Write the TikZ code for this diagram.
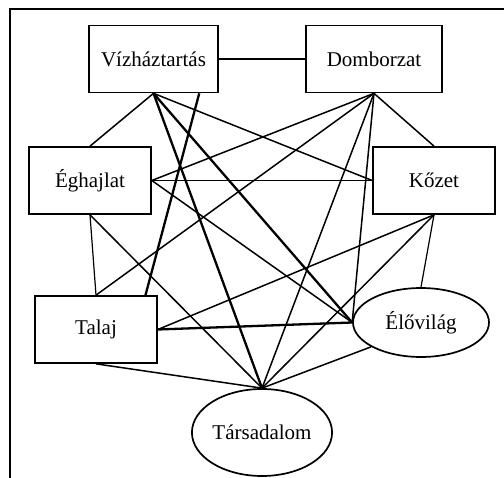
\documentclass[tikz,border=0pt]{standalone}
\usepackage{fontspec}
\setmainfont{Liberation Serif}
\usetikzlibrary{calc,shapes.geometric}
\begin{document}
\begin{tikzpicture}[x=1pt,y=-1pt,
  box/.style={draw,line width=1.7pt,rectangle,inner sep=0pt,minimum width=#1,minimum height=67pt,font=\fontsize{21}{25}\selectfont},
  oval/.style={draw,line width=1.7pt,ellipse,inner sep=0pt,font=\fontsize{21}{25}\selectfont},
  thin/.style={line width=1.5pt},
  thick/.style={line width=2.3pt}]
\useasboundingbox (0,0) rectangle (504,478);
\draw[line width=1.5pt] (504,9) -- (10,9) -- (10,478);
\node[box=129pt] (viz) at (153.5,59) {Vízháztartás};
\node[box=136pt] (domb) at (374,59) {Domborzat};
\node[box=122pt] (egh) at (90,180.5) {Éghajlat};
\node[box=122pt] (kozet) at (434,180.5) {Kőzet};
\node[box=122pt] (talaj) at (96,329.5) {Talaj};
\node[oval,minimum width=136pt,minimum height=69pt] (elo) at (421,322.5) {Élővilág};
\node[oval,minimum width=128pt,minimum height=87pt] (tars) at (262,432.5) {Társadalom};
% connections
\draw[thin] (viz.east) -- (domb.west);
\draw[thin] (viz.south) -- (egh.north);
\draw[thick] ($(viz.south)!0.7!(viz.south east)$) -- ($(talaj.north)!0.8!(talaj.north east)$);
\draw[thick] (viz.south) -- (tars.north);
\draw[thick] (viz.south) -- (elo.west);
\draw[thin] (viz.south) -- (kozet.west);
\draw[thin] (domb.south) -- (kozet.north);
\draw[thin] (domb.south) -- (elo.west);
\draw[thin] (domb.south) -- (tars.north);
\draw[thin] (domb.south) -- (talaj.north);
\draw[thin] (domb.south) -- (egh.east);
\draw[thin] (egh.east) -- (kozet.west);
\draw[thin] (egh.east) -- (elo.west);
\draw[line width=1.2pt] (egh.south) -- (talaj.north);
\draw[thin] (egh.south) -- (tars.north);
\draw[thin] (kozet.south) -- (talaj.east);
\draw[thin] (kozet.south) -- (tars.north);
\draw[line width=1.2pt] (kozet.south) -- (elo.north);
\draw[thick] (talaj.east) -- (elo.west);
\draw[thin] (talaj.south) -- (tars.north);
\draw[thin] (elo.206) -- (tars.north);
\end{tikzpicture}
\end{document}
